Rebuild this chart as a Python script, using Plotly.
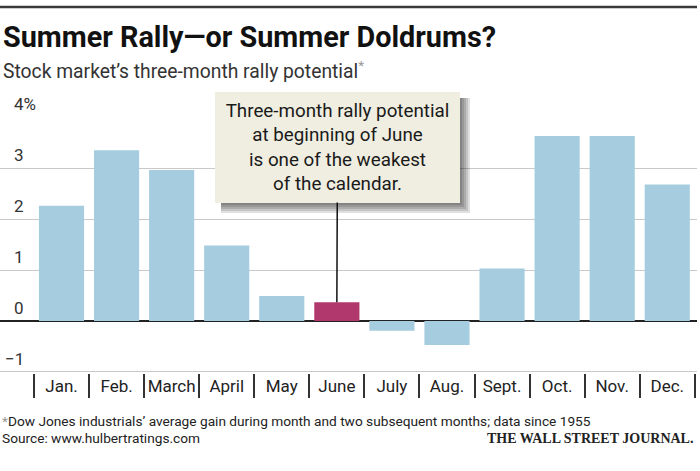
import plotly.graph_objects as go

months = ["Jan.", "Feb.", "March", "April", "May", "June", "July", "Aug.", "Sept.", "Oct.", "Nov.", "Dec."]
rally = [2.26, 3.35, 2.96, 1.48, 0.49, 0.37, -0.19, -0.47, 1.03, 3.63, 3.63, 2.68]
highlight = "June"
y_ticks = [-1, 0, 1, 2, 3, 4]
y_ticktext = ["\u22121", "0", "1", "2", "3", "4%"]

title = "Summer Rally\u2014or Summer Doldrums?"
subtitle = "Stock market\u2019s three-month rally potential"
note = "Three-month rally potential<br>at beginning of June<br>is one of the weakest<br>of the calendar."
footnote = "Dow Jones industrials\u2019 average gain during month and two subsequent months; data since 1955"
source = "Source: www.hulbertratings.com"
credit = "THE WALL STREET JOURNAL."

W, H = 700, 471
L, R, T, B = 0, 3, 117, 98
PW, PH = W - L - R, H - T - B
YMIN, YMAX = -1.02, 4.002
XMIN, XMAX = -1.117, 11.54


def px(x):
    return (x - L) / PW


def py(y):
    return (H - B - y) / PH


FONT = "Roboto, Liberation Sans, sans-serif"
BLUE = "#a6cddf"
MAG = "#b0386c"

colors = [MAG if m == highlight else BLUE for m in months]

fig = go.Figure()
fig.add_trace(go.Bar(x=months, y=rally, marker=dict(color=colors, line=dict(width=0)),
                     hoverinfo="skip"))

# callout box position (pixels)
bx0, bx1, by0, by1 = 215, 460, 92, 203
bcx, bcy = (bx0 + bx1) / 2, (by0 + by1) / 2

shapes = []
# top rule
shapes.append(dict(type="line", xref="paper", yref="paper", x0=px(0), x1=px(697), y0=py(7), y1=py(7),
                   line=dict(color="#3a3a3a", width=2.5)))
# soft shadow for callout
for d in [2, 4, 6, 8, 10]:
    shapes.append(dict(type="rect", xref="paper", yref="paper", layer="above",
                       x0=px(bx0 + 6), x1=px(bx1 + d), y0=py(by1 + d), y1=py(by0 + 6),
                       line=dict(width=0), fillcolor="rgba(0,0,0,0.12)"))

annotations = []
june_idx = months.index(highlight)
june_val = rally[june_idx]
june_top_px = H - B - (june_val - YMIN) / (YMAX - YMIN) * PH
june_center_px = L + (june_idx - XMIN) * PW / (XMAX - XMIN)
annotations.append(dict(x=highlight, y=june_val, xref="x", yref="y", text=note,
                        showarrow=True, arrowhead=0, arrowwidth=1.5, arrowcolor="#111",
                        ax=bcx - june_center_px, ay=bcy - june_top_px, standoff=0,
                        width=bx1 - bx0 - 2, height=by1 - by0 - 2, bgcolor="#efeee1",
                        borderpad=0, bordercolor="#efeee1", borderwidth=1, align="center",
                        font=dict(family=FONT, size=18.8, color="#1a1a1a")))

# y tick labels, placed above their gridlines
for v, t in zip(y_ticks, y_ticktext):
    annotations.append(dict(x=px(3 if v < 0 else 12), y=v, xref="paper", yref="y",
                            xanchor="left", yanchor="bottom", yshift=1, text=t, showarrow=False,
                            font=dict(family=FONT, size=17, color="#333")))

annotations.append(dict(x=px(1), y=py(37), xref="paper", yref="paper", xanchor="left", yanchor="middle",
                        text="<b>" + title + "</b>", showarrow=False,
                        font=dict(family=FONT, size=28.8, color="#111")))
annotations.append(dict(x=px(1), y=py(70), xref="paper", yref="paper", xanchor="left", yanchor="middle",
                        text=subtitle + "<span style='color:#999'><sup>*</sup></span>", showarrow=False,
                        font=dict(family=FONT, size=19.3, color="#333")))
annotations.append(dict(x=px(0), y=py(421), xref="paper", yref="paper", xanchor="left", yanchor="middle",
                        text="<span style='color:#999'>*</span>" + footnote, showarrow=False,
                        font=dict(family=FONT, size=13.7, color="#222")))
annotations.append(dict(x=px(0), y=py(438), xref="paper", yref="paper", xanchor="left", yanchor="middle",
                        text=source, showarrow=False,
                        font=dict(family=FONT, size=13.7, color="#222")))
annotations.append(dict(x=px(695), y=py(438), xref="paper", yref="paper", xanchor="right", yanchor="middle",
                        text="<b>" + credit + "</b>", showarrow=False,
                        font=dict(family="Liberation Serif, DejaVu Serif, serif", size=14, color="#222")))

fig.update_layout(
    width=W, height=H, margin=dict(l=L, r=R, t=T, b=B, pad=0, autoexpand=False),
    paper_bgcolor="white", plot_bgcolor="white", showlegend=False,
    bargap=0.18, shapes=shapes, annotations=annotations,
    font=dict(family=FONT, color="#333"),
)
fig.update_xaxes(type="category", range=[XMIN, XMAX], showgrid=False, showline=False, zeroline=False,
                 ticks="outside", tickson="boundaries", ticklen=24, tickwidth=1.5, tickcolor="#333",
                 tickangle=0, ticklabelstandoff=1, tickfont=dict(family=FONT, size=17, color="#222"),
                 automargin=False, fixedrange=True)
fig.update_yaxes(range=[YMIN, YMAX], tickvals=y_ticks, showticklabels=False, showgrid=True,
                 gridcolor="#c9c9c9", gridwidth=1, zeroline=True, zerolinecolor="#222", zerolinewidth=1.5,
                 showline=False, ticks="", automargin=False, fixedrange=True)

fig.write_html("out.html", config={"displayModeBar": False},
               post_script="document.body.style.margin='0';")
